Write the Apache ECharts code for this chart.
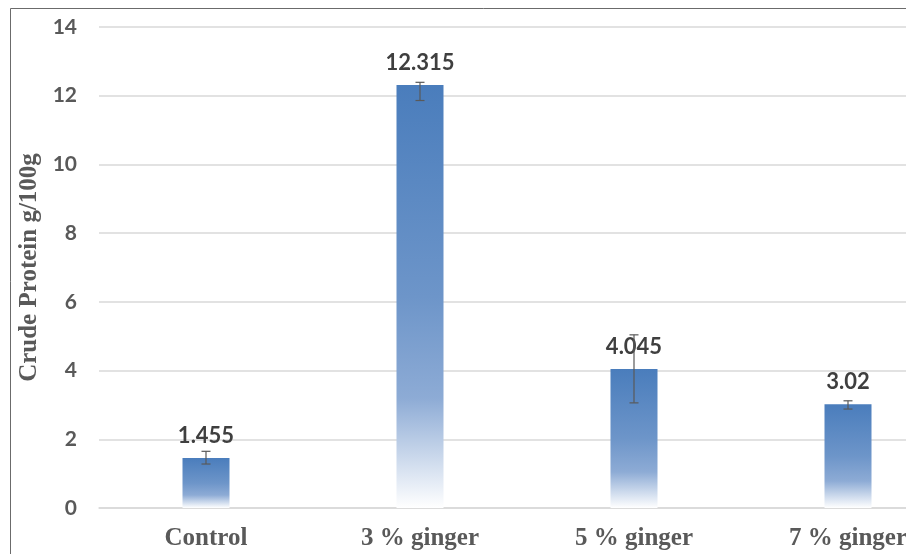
<!DOCTYPE html>
<html><head><meta charset="utf-8">
<script src="https://cdn.jsdelivr.net/npm/echarts@6/dist/echarts.min.js"></script>
<style>html,body{margin:0;padding:0;background:#fff;overflow:hidden}#c{width:955px;height:554px}</style>
</head><body><div id="c"></div>
<script>
const categories = ['Control', '3 % ginger', '5 % ginger', '7 % ginger'];
const values = [1.455, 12.315, 4.045, 3.02];
const errLow = [1.28, 11.86, 3.06, 2.88];
const errHigh = [1.65, 12.39, 5.04, 3.12];
const yTicks = [0, 2, 4, 6, 8, 10, 12, 14];

const chart = echarts.init(document.getElementById('c'));
const errData = categories.map((c, i) => [i, errLow[i], errHigh[i]]);
chart.setOption({
  animation: false,
  graphic: [{type: 'rect', shape: {x: 10.5, y: 8.5, width: 1200, height: 1200}, style: {fill: 'none', stroke: '#6b6b6b', lineWidth: 1}, silent: true, z: 100}],
  grid: {left: 99, right: 0, top: 27, bottom: 46},
  xAxis: {
    type: 'category', data: categories,
    axisLine: {lineStyle: {color: '#d9d9d9', width: 1.5}},
    axisTick: {show: false},
    axisLabel: {color: '#595959', fontFamily: 'Liberation Serif', fontWeight: 'bold', fontSize: 25, margin: 18}
  },
  yAxis: {
    type: 'value', min: yTicks[0], max: yTicks[yTicks.length - 1], interval: 2,
    name: 'Crude Protein g/100g', nameLocation: 'middle', nameGap: 57, nameRotate: 90,
    nameTextStyle: {color: '#595959', fontFamily: 'Liberation Serif', fontWeight: 'bold', fontSize: 25},
    axisLine: {show: false}, axisTick: {show: false},
    axisLabel: {color: '#595959', fontFamily: 'Lato', fontWeight: 'bold', fontSize: 21, margin: 22},
    splitLine: {lineStyle: {color: '#d9d9d9', width: 1.5}}
  },
  series: [{
    type: 'bar', data: values, barWidth: 47,
    itemStyle: {color: new echarts.graphic.LinearGradient(0, 0, 0, 1, [
      {offset: 0, color: '#4a7dbc'},
      {offset: 0.5, color: '#6d95c9'},
      {offset: 0.74, color: '#8dabd5'},
      {offset: 1, color: '#ffffff'}
    ])},
    label: {show: true, position: 'top', distance: 11, color: '#3f3f3f', fontFamily: 'Lato', fontWeight: 'bold', fontSize: 22,
      formatter: p => String(p.value)}
  }, {
    type: 'custom', data: errData, z: 10,
    renderItem: function (params, api) {
      const x = api.value(0);
      const lo = api.coord([x, api.value(1)]);
      const hi = api.coord([x, api.value(2)]);
      const hw = 4.5;
      const st = {stroke: '#595959', lineWidth: 1.2};
      return {type: 'group', children: [
        {type: 'line', shape: {x1: lo[0], y1: lo[1], x2: hi[0], y2: hi[1]}, style: st},
        {type: 'line', shape: {x1: lo[0] - hw, y1: lo[1], x2: lo[0] + hw, y2: lo[1]}, style: st},
        {type: 'line', shape: {x1: hi[0] - hw, y1: hi[1], x2: hi[0] + hw, y2: hi[1]}, style: st}
      ]};
    }
  }]
});
</script></body></html>
